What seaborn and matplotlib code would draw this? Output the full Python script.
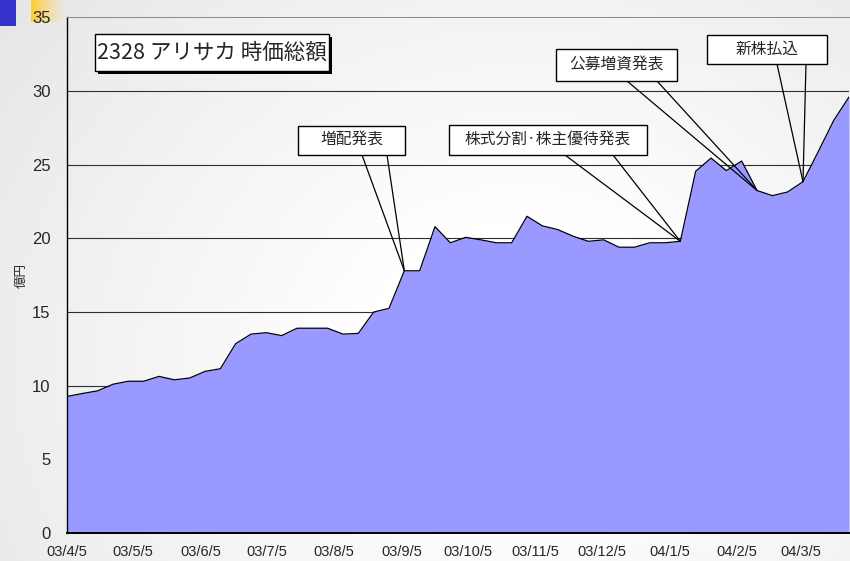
import numpy as np
import pandas as pd
import matplotlib
matplotlib.use("Agg")
import matplotlib.pyplot as plt
import matplotlib.dates as mdates
from matplotlib.patches import Rectangle
from matplotlib.lines import Line2D
import seaborn as sns

# ---------------- data ----------------
start_date = "2003-04-05"
market_cap = [9.27, 9.47, 9.65, 10.1, 10.3, 10.3, 10.63, 10.4, 10.52, 10.97,
              11.15, 12.85, 13.5, 13.6, 13.4, 13.9, 13.9, 13.9, 13.5, 13.55,
              15.0, 15.25, 17.8, 17.8, 20.8, 19.7, 20.07, 19.9, 19.7, 19.7,
              21.5, 20.85, 20.6, 20.15, 19.8, 19.9, 19.4, 19.4, 19.7, 19.7,
              19.8, 24.55, 25.45, 24.6, 25.25, 23.25, 22.9, 23.15, 23.85, 25.9,
              28.0, 29.6]
tick_dates = ["2003-04-05", "2003-05-05", "2003-06-05", "2003-07-05", "2003-08-05",
              "2003-09-05", "2003-10-05", "2003-11-05", "2003-12-05", "2004-01-05",
              "2004-02-05", "2004-03-05"]
tick_labels = ["03/4/5", "03/5/5", "03/6/5", "03/7/5", "03/8/5", "03/9/5",
               "03/10/5", "03/11/5", "03/12/5", "04/1/5", "04/2/5", "04/3/5"]
y_ticks = [0, 5, 10, 15, 20, 25, 30, 35]
title_text = "2328 アリサカ 時価総額"
y_label = "億円"
event_labels = ["増配発表", "株式分割·株主優待発表", "公募増資発表", "新株払込"]
event_index = [22, 40, 45, 48]

dates = pd.date_range(start_date, periods=len(market_cap), freq="7D")
df = pd.DataFrame({"date": dates, "value": market_cap})

# ---------------- layout ----------------
W, H = 850, 561
sns.set_style("white")
plt.rcParams["font.family"] = ["Liberation Sans", "Noto Sans CJK JP", "DejaVu Sans"]
CJK = ["Noto Sans CJK JP", "DejaVu Sans"]

fig = plt.figure(figsize=(W / 100, H / 100), dpi=100)


def fx(x):
    return x / W


def fy(y):
    return 1 - y / H


# background gradient
bg = fig.add_axes([0, 0, 1, 1], zorder=-10)
yy, xx = np.mgrid[0:H, 0:W]
d = np.sqrt((xx - 520.0) ** 2 + ((yy - 360.0) * 1.15) ** 2)
t = np.clip((d - 160) / 520, 0, 1)
g = 1 - 0.10 * t
bg.imshow(np.dstack([g, g, g]), extent=[0, 1, 0, 1], aspect="auto", origin="upper")
bg.set_axis_off()

# decorative corner squares
fig.add_artist(Rectangle((fx(0), fy(25.5)), fx(16), 25.5 / H, transform=fig.transFigure,
                         facecolor="#3333cc", edgecolor="none", zorder=-5))
ya = fig.add_axes([fx(31), fy(22), fx(36), 22 / H], zorder=-5)
grad = np.ones((2, 100, 4))
grad[..., 0] = 1.0
grad[..., 1] = 0.8
grad[..., 2] = 0.2
grad[..., 3] = np.linspace(1, 0, 100) ** 1.3
ya.imshow(grad, extent=[0, 1, 0, 1], aspect="auto")
ya.set_axis_off()

# main axes
ax = fig.add_axes([fx(67), fy(533), (849 - 67) / W, (533 - 17.4) / H], zorder=1)
ax.patch.set_alpha(0)

for v in y_ticks[1:-1]:
    ax.axhline(v, color="#303030", lw=0.8, zorder=1)

ax.fill_between(df["date"], df["value"], 0, color="#9999ff", lw=0, zorder=2)
sns.lineplot(data=df, x="date", y="value", ax=ax, color="black", lw=0.9, zorder=3)

ax.set_xlim(dates[0], dates[-1])
ax.set_ylim(0, 35)
ax.set_yticks(y_ticks)
ax.set_yticklabels([str(v) for v in y_ticks], fontsize=12)
ax.set_xticks(pd.to_datetime(tick_dates))
ax.set_xticklabels(tick_labels, fontsize=10.5)
ax.set_xlabel("")
ax.set_ylabel("")
ax.tick_params(axis="y", direction="in", length=5, width=0.9, color="black", pad=12)
ax.tick_params(axis="x", direction="in", length=3.5, width=0.9, color="black", pad=9)
ax.spines["left"].set_color("black")
ax.spines["left"].set_linewidth(1.0)
ax.spines["bottom"].set_color("black")
ax.spines["bottom"].set_linewidth(1.4)
ax.spines["top"].set_color("#888888")
ax.spines["top"].set_linewidth(0.7)
ax.spines["right"].set_visible(False)
ax.grid(False)

fig.text(fx(21), fy(275), y_label, rotation=90, ha="center", va="center",
         fontsize=9, family=CJK)

# title box with shadow
fig.add_artist(Rectangle((fx(98), fy(74)), (329 - 95) / W, 37 / H, transform=fig.transFigure,
                         facecolor="black", edgecolor="none", zorder=6))
fig.add_artist(Rectangle((fx(95), fy(71)), (329 - 95) / W, 37 / H, transform=fig.transFigure,
                         facecolor="white", edgecolor="black", lw=1.0, zorder=7))
fig.text(fx(212), fy(53), title_text, ha="center", va="center", fontsize=15.5,
         family=CJK, zorder=8)

# callouts: box (x0, y0, x1, y1) in pixels, wedge base x positions
boxes = [(298, 126, 405, 155), (449, 125, 647, 155), (556, 49, 677, 81), (707, 35, 827, 64)]
bases = [(362, 387), (565, 613), (627, 657), (777, 806)]

fig.canvas.draw()
inv = fig.transFigure.inverted()
for label, idx, (x0, y0, x1, y1), (b1, b2) in zip(event_labels, event_index, boxes, bases):
    tip = inv.transform(ax.transData.transform((mdates.date2num(dates[idx]), market_cap[idx])))
    for b in (b1, b2):
        fig.add_artist(Line2D([fx(b), tip[0]], [fy(y1), tip[1]], transform=fig.transFigure,
                              color="black", lw=0.9, zorder=5))
    fig.add_artist(Rectangle((fx(x0), fy(y1)), (x1 - x0) / W, (y1 - y0) / H,
                             transform=fig.transFigure, facecolor="white",
                             edgecolor="black", lw=1.0, zorder=6))
    fig.text(fx((x0 + x1) / 2), fy((y0 + y1) / 2), label, ha="center", va="center",
             fontsize=11.3, family=CJK, zorder=7)

fig.savefig("out.png", dpi=100)
